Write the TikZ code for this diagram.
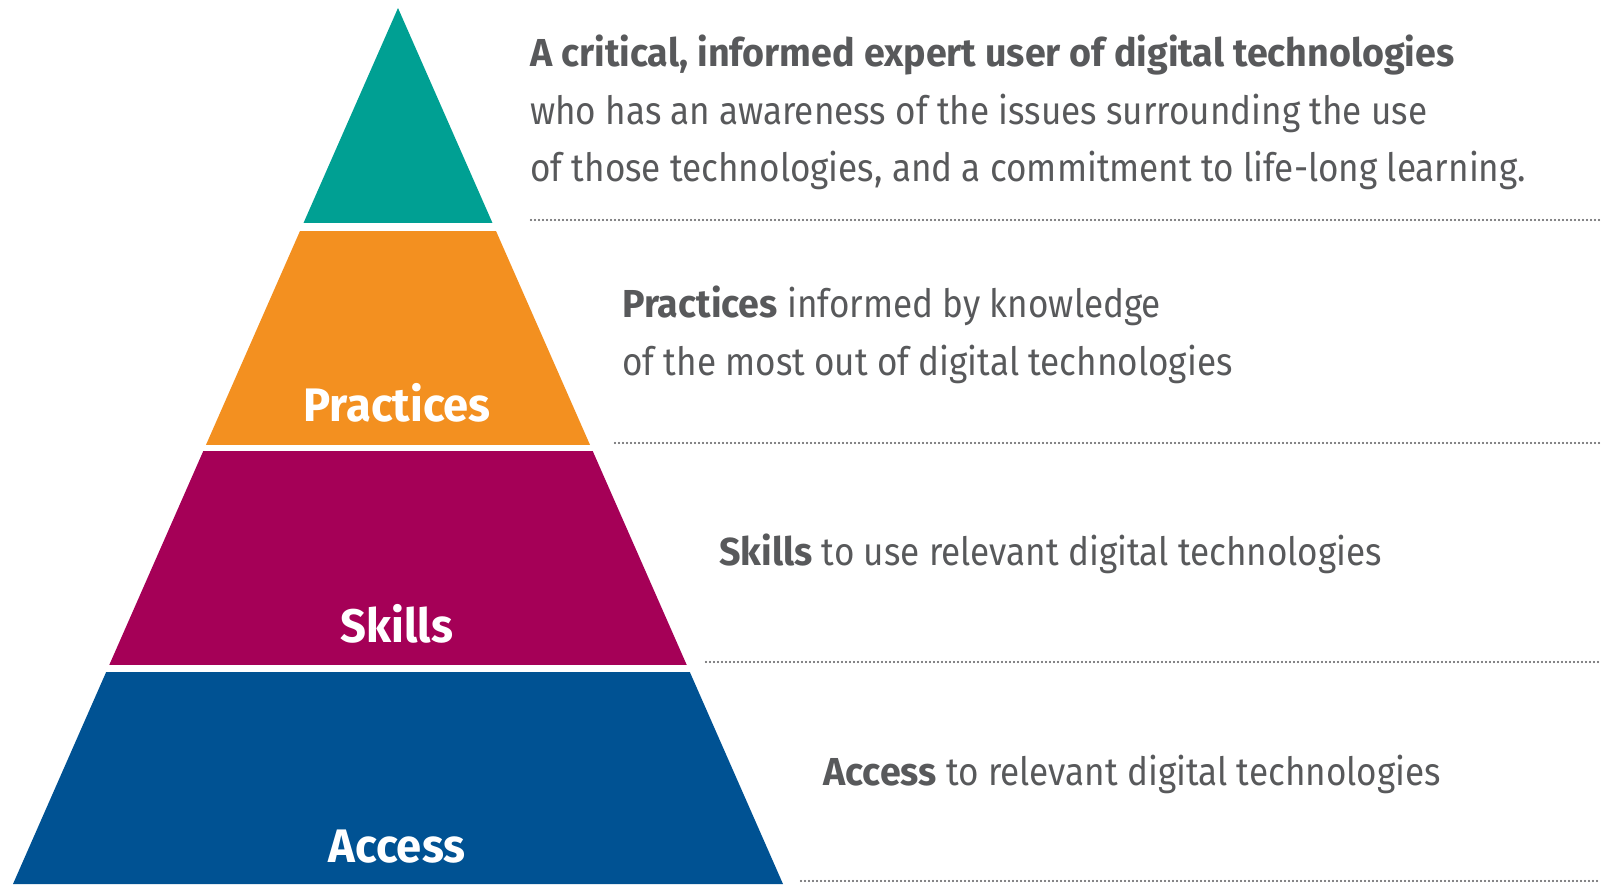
\documentclass[tikz,border=0pt]{standalone}
\usepackage{fontspec}
\setmainfont{Fira Sans}[FakeStretch=0.90,BoldFeatures={FakeStretch=0.965}]
\definecolor{teal1}{HTML}{00A093}
\definecolor{orange1}{HTML}{F39020}
\definecolor{magenta1}{HTML}{A50057}
\definecolor{blue1}{HTML}{005293}
\definecolor{txt}{HTML}{58595B}
\tikzset{
  layerlabel/.style={text=white,font=\fontsize{47}{50}\selectfont\bfseries,anchor=base,inner sep=0pt},
  desc/.style={text=txt,font=\fontsize{39}{57}\selectfont,anchor=base west,inner sep=0pt},
  sepline/.style={draw=txt,line width=2.2pt,line cap=round,dash pattern=on 0pt off 4pt},
}
\begin{document}
\begin{tikzpicture}[x=1pt,y=-1pt]
\useasboundingbox (0,0) rectangle (1603,884);
\coordinate (apex) at (398,8);
\coordinate (bl) at (13,884);
\coordinate (br) at (783,884);
\begin{scope}
  \clip (apex) -- (bl) -- (br) -- cycle;
  \fill[teal1] (0,0) rectangle (800,223);
  \fill[orange1] (0,231) rectangle (800,445);
  \fill[magenta1] (0,451) rectangle (800,665);
  \fill[blue1] (0,672) rectangle (800,890);
\end{scope}
\node[layerlabel] (lp) at (397,421) {Practices};
\node[layerlabel] (ls) at (397,642) {Skills};
\node[layerlabel] (la) at (397,862) {Access};
% descriptions
\node[desc] (d1a) at (530,66) {\textbf{A critical, informed expert user of digital technologies}};
\node[desc] (d1b) at (530,124) {who has an awareness of the issues surrounding the use};
\node[desc] (d1c) at (530,181) {of those technologies, and a commitment to life-long learning.};
\node[desc] (d2a) at (622,317) {\textbf{Practices} informed by knowledge};
\node[desc] (d2b) at (622,375) {of the most out of digital technologies};
\node[desc] (d3) at (719,565) {\textbf{Skills} to use relevant digital technologies};
\node[desc] (d4) at (823,785) {\textbf{Access} to relevant digital technologies};
% dotted separators
\coordinate (s1a) at (531,220); \coordinate (s1b) at (1600,220);
\coordinate (s2a) at (615,443); \coordinate (s2b) at (1600,443);
\coordinate (s3a) at (706,662); \coordinate (s3b) at (1600,662);
\coordinate (s4a) at (801,881); \coordinate (s4b) at (1600,881);
\draw[sepline] (s1a) -- (s1b);
\draw[sepline] (s2a) -- (s2b);
\draw[sepline] (s3a) -- (s3b);
\draw[sepline] (s4a) -- (s4b);
\end{tikzpicture}
\end{document}
